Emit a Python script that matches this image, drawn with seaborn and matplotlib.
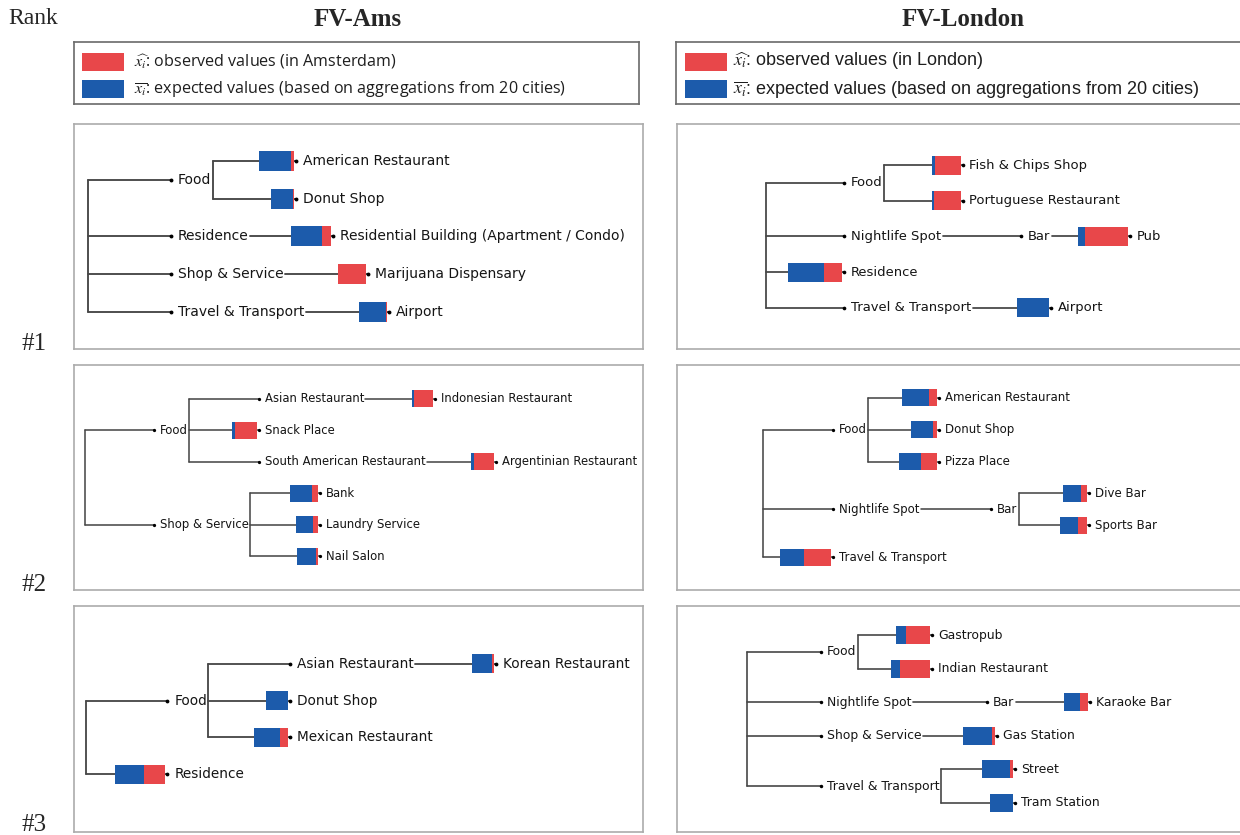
import matplotlib
matplotlib.use("Agg")
import matplotlib.pyplot as plt
from matplotlib.patches import Rectangle
import seaborn as sns

sns.set_theme(style="white")
plt.rcParams["font.family"] = ["DejaVu Sans"]
plt.rcParams["mathtext.fontset"] = "stix"

FIG_W, FIG_H = 1240, 835
RED = "#e8474a"
BLUE = "#1c5bab"
LINE = "#474747"
FRAME = "#ababab"

# ---- tree data (depth first, parent of each node, values only for leaves)
ams1_nodes = ["Food", "American Restaurant", "Donut Shop", "Residence",
              "Residential Building (Apartment / Condo)", "Shop & Service",
              "Marijuana Dispensary", "Travel & Transport", "Airport"]
ams1_parents = [None, "Food", "Food", None, "Residence", None,
                "Shop & Service", None, "Travel & Transport"]
ams1_expected = [None, 0.318, 0.222, None, 0.314, None, 0.0, None, 0.270]
ams1_observed = [None, 0.026, 0.007, None, 0.092, None, 0.277, None, 0.007]

ams2_nodes = ["Food", "Asian Restaurant", "Indonesian Restaurant", "Snack Place",
              "South American Restaurant", "Argentinian Restaurant",
              "Shop & Service", "Bank", "Laundry Service", "Nail Salon"]
ams2_parents = [None, "Food", "Asian Restaurant", "Food", "Food",
                "South American Restaurant", None, "Shop & Service",
                "Shop & Service", "Shop & Service"]
ams2_expected = [None, None, 0.018, 0.036, None, 0.036, None, 0.265, 0.195, 0.221]
ams2_observed = [None, None, 0.234, 0.265, None, 0.243, None, 0.075, 0.066, 0.031]

ams3_nodes = ["Food", "Asian Restaurant", "Korean Restaurant", "Donut Shop",
              "Mexican Restaurant", "Residence"]
ams3_parents = [None, "Food", "Asian Restaurant", "Food", "Food", None]
ams3_expected = [None, None, 0.196, 0.227, 0.271, 0.302]
ams3_observed = [None, None, 0.027, 0.0, 0.076, 0.215]

lon1_nodes = ["Food", "Fish & Chips Shop", "Portuguese Restaurant", "Nightlife Spot",
              "Bar", "Pub", "Residence", "Travel & Transport", "Airport"]
lon1_parents = [None, "Food", "Food", None, "Nightlife Spot", "Bar", None, None,
                "Travel & Transport"]
lon1_expected = [None, 0.031, 0.023, None, None, 0.068, 0.383, None, 0.337]
lon1_observed = [None, 0.276, 0.283, None, None, 0.459, 0.192, None, 0.005]

lon2_nodes = ["Food", "American Restaurant", "Donut Shop", "Pizza Place",
              "Nightlife Spot", "Bar", "Dive Bar", "Sports Bar", "Travel & Transport"]
lon2_parents = [None, "Food", "Food", "Food", None, "Nightlife Spot", "Bar", "Bar", None]
lon2_expected = [None, 0.321, 0.265, 0.265, None, None, 0.214, 0.209, 0.287]
lon2_observed = [None, 0.094, 0.042, 0.184, None, None, 0.076, 0.112, 0.321]

lon3_nodes = ["Food", "Gastropub", "Indian Restaurant", "Nightlife Spot", "Bar",
              "Karaoke Bar", "Shop & Service", "Gas Station", "Travel & Transport",
              "Street", "Tram Station"]
lon3_parents = [None, "Food", "Food", None, "Nightlife Spot", "Bar", None,
                "Shop & Service", None, "Travel & Transport", "Travel & Transport"]
lon3_expected = [None, 0.102, 0.102, None, None, 0.184, None, 0.327, None, 0.315, 0.253]
lon3_observed = [None, 0.274, 0.335, None, None, 0.082, None, 0.040, None, 0.040, 0.005]

legend_labels_ams = [r"$\widehat{x_i}$: observed values (in Amsterdam)",
                     r"$\overline{x_i}$: expected values (based on aggregations from 20 cities)"]
legend_labels_lon = [r"$\widehat{x_i}$: observed values (in London)",
                     r"$\overline{x_i}$: expected values (based on aggregations from 20 cities)"]
row_labels = ["#1", "#2", "#3"]

# layout constants in "base" units (one unit = k pixels in a panel)
BRANCH = 83
ROW = 37.7
BAR_H = 20
LABEL_GAP = 7
VAL_SCALE = 100


def px_axes(fig, left, top, w, h):
    return fig.add_axes([left / FIG_W, 1 - (top + h) / FIG_H, w / FIG_W, h / FIG_H])


def draw_panel(fig, rect, k, root_x, nodes, parents, expected, observed):
    left, top, w, h = rect
    ax = px_axes(fig, left, top, w, h)
    ax.set_xlim(0, w / k)
    ax.set_ylim(h / k, 0)
    ax.set_xticks([])
    ax.set_yticks([])
    for sp in ax.spines.values():
        sp.set_color(FRAME)
        sp.set_linewidth(1.2)
    renderer = fig.canvas.get_renderer()

    children = {n: [c for c, p in zip(nodes, parents) if p == n] for n in nodes}
    leaves = [n for n in nodes if not children[n]]
    y = {}
    y0 = h / k / 2 - (len(leaves) - 1) * ROW / 2
    for i, n in enumerate(leaves):
        y[n] = y0 + i * ROW
    for n in reversed(nodes):
        if children[n]:
            y[n] = (y[children[n][0]] + y[children[n][-1]]) / 2

    lw = 1.35 * k
    tops = [n for n, p in zip(nodes, parents) if p is None]
    ax.plot([root_x, root_x], [y[tops[0]], y[tops[-1]]], color=LINE, lw=lw, zorder=1)

    start, dot = {}, {}
    for n, p in zip(nodes, parents):
        s = root_x if p is None else start[p]
        dot[n] = s + BRANCH
        ax.plot([s, dot[n]], [y[n], y[n]], color=LINE, lw=lw, zorder=1)
        t = ax.text(dot[n] + LABEL_GAP, y[n], n, fontsize=10 * k, color="#151515",
                    va="center", ha="left", zorder=3)
        if children[n]:
            wpx = t.get_window_extent(renderer).width
            start[n] = dot[n] + LABEL_GAP + wpx / k + 1.5
            ax.plot([start[n]] * 2, [y[children[n][0]], y[children[n][-1]]],
                    color=LINE, lw=lw, zorder=1)

    ys, lefts, we, wo = [], [], [], []
    for n, e, o in zip(nodes, expected, observed):
        if e is None:
            continue
        right = dot[n] - 2
        ys.append(y[n])
        we.append(e * VAL_SCALE)
        wo.append(o * VAL_SCALE)
        lefts.append(right - (e + o) * VAL_SCALE)
    ax.barh(ys, we, left=lefts, height=BAR_H, color=BLUE, linewidth=0, zorder=2)
    ax.barh(ys, wo, left=[a + b for a, b in zip(lefts, we)], height=BAR_H,
            color=RED, linewidth=0, zorder=2)

    ax.scatter([dot[n] for n in nodes], [y[n] for n in nodes], s=(2.8 * k) ** 2,
               color="black", linewidths=0, zorder=4)
    return ax


def draw_legend(fig, rect, labels, family, size, patch_x, text_x):
    left, top, w, h = rect
    ax = px_axes(fig, left, top, w, h)
    ax.set_xlim(0, w)
    ax.set_ylim(h, 0)
    ax.set_xticks([])
    ax.set_yticks([])
    for sp in ax.spines.values():
        sp.set_color("#6a6a6a")
        sp.set_linewidth(1.2)
    for (y_top, color, lab) in zip([10.5, 38], [RED, BLUE], labels):
        ax.add_patch(Rectangle((patch_x, y_top), 42, 18, color=color, lw=0))
        ax.text(text_x, y_top + 9, lab, family=family, fontsize=size, color="#1e1e1e",
                va="center", ha="left")


fig = plt.figure(figsize=(FIG_W / 100, FIG_H / 100), dpi=100)

serif = "Liberation Serif"
fig.text(8 / FIG_W, 1 - 19 / FIG_H, "Rank", family=serif, fontsize=17, va="center")
fig.text(358 / FIG_W, 1 - 19 / FIG_H, "FV-Ams", family=serif, fontsize=18,
         fontweight="bold", ha="center", va="center")
fig.text(963 / FIG_W, 1 - 19 / FIG_H, "FV-London", family=serif, fontsize=18,
         fontweight="bold", ha="center", va="center")
for lab, yy in zip(row_labels, [344, 585, 825]):
    fig.text(22 / FIG_W, 1 - yy / FIG_H, lab, family=serif, fontsize=18, va="center")

draw_legend(fig, (74, 42, 565, 62), legend_labels_ams, "Open Sans", 11.6, 8, 60)
draw_legend(fig, (676, 42, 590, 62), legend_labels_lon, "Liberation Sans", 13, 9, 57)

draw_panel(fig, (74, 124, 569, 225), 1.0, 14, ams1_nodes, ams1_parents,
           ams1_expected, ams1_observed)
draw_panel(fig, (74, 365, 569, 225), 0.837, 13.1, ams2_nodes, ams2_parents,
           ams2_expected, ams2_observed)
draw_panel(fig, (74, 606, 569, 226), 0.98, 12.2, ams3_nodes, ams3_parents,
           ams3_expected, ams3_observed)
draw_panel(fig, (677, 124, 590, 225), 0.947, 93.7, lon1_nodes, lon1_parents,
           lon1_expected, lon1_observed)
draw_panel(fig, (677, 365, 590, 225), 0.848, 101, lon2_nodes, lon2_parents,
           lon2_expected, lon2_observed)
draw_panel(fig, (677, 606, 590, 226), 0.89, 78.7, lon3_nodes, lon3_parents,
           lon3_expected, lon3_observed)

fig.savefig("out.png", dpi=100)
